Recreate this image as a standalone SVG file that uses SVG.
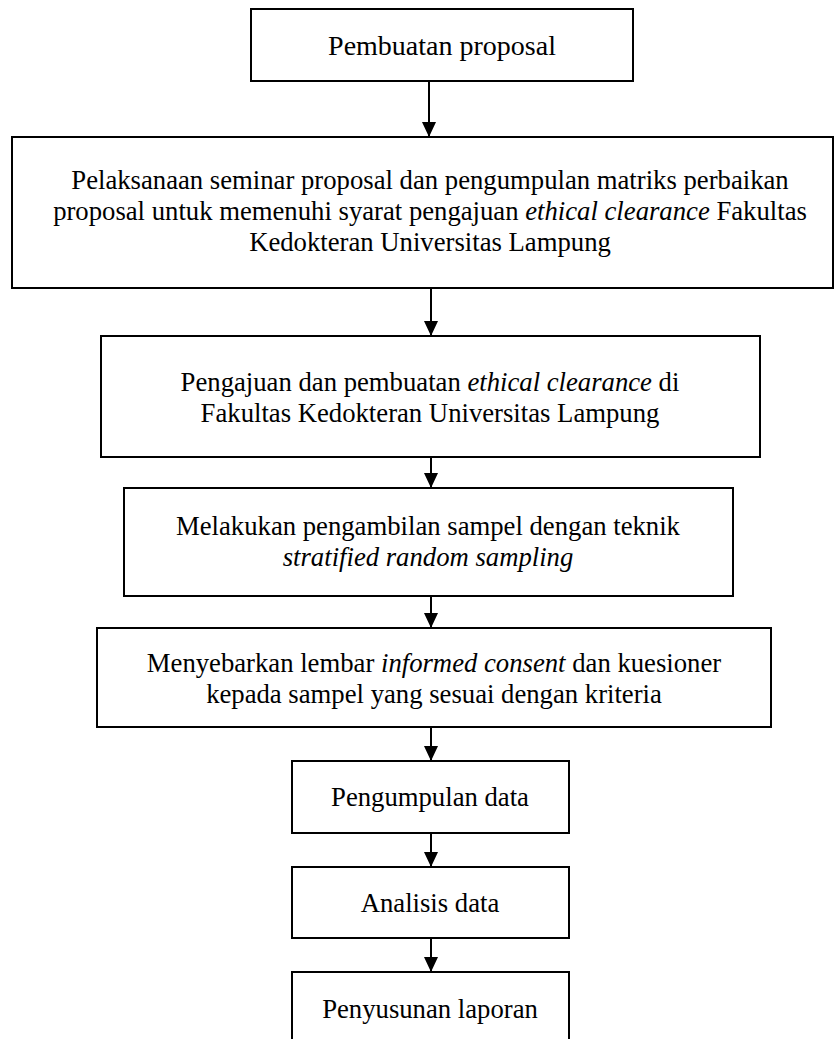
<svg xmlns="http://www.w3.org/2000/svg" width="835" height="1039" viewBox="0 0 835 1039">
<style>
.box{fill:#fff;stroke:#000;stroke-width:2}
.t{font-family:'Liberation Serif','Times New Roman',serif;font-size:26.7px;fill:#000;text-anchor:middle}
.i{font-style:italic}
.c{stroke:#000;stroke-width:2;fill:none;marker-end:url(#ah)}
</style>
<defs>
<marker id="ah" viewBox="0 0 15 14" refX="15" refY="7" markerWidth="15" markerHeight="14" markerUnits="userSpaceOnUse" orient="auto">
<path d="M0,0 L15,7 L0,14 Z" fill="#000"/>
</marker>
</defs>
<rect width="835" height="1039" fill="#fff"/>
<g id="connectors">
<line class="c" x1="429" y1="81" x2="429" y2="137"/>
<line class="c" x1="431" y1="288" x2="431" y2="336"/>
<line class="c" x1="431" y1="457" x2="431" y2="488"/>
<line class="c" x1="431" y1="596" x2="431" y2="628"/>
<line class="c" x1="431" y1="727" x2="431" y2="761"/>
<line class="c" x1="431" y1="833" x2="431" y2="867"/>
<line class="c" x1="431" y1="938" x2="431" y2="972"/>
</g>
<g id="n1">
<rect class="box" x="251" y="9" width="382" height="72"/>
<text class="t" x="442" y="55" style="font-size:28px">Pembuatan proposal</text>
</g>
<g id="n2">
<rect class="box" x="12" y="137" width="821" height="151"/>
<text class="t" x="430" y="189">Pelaksanaan seminar proposal dan pengumpulan matriks perbaikan</text>
<text class="t" x="430" y="220">proposal untuk memenuhi syarat pengajuan <tspan class="i">ethical clearance</tspan> Fakultas</text>
<text class="t" x="430" y="251">Kedokteran Universitas Lampung</text>
</g>
<g id="n3">
<rect class="box" x="101" y="336" width="659" height="121"/>
<text class="t" x="430" y="391">Pengajuan dan pembuatan <tspan class="i">ethical clearance</tspan> di</text>
<text class="t" x="430" y="422">Fakultas Kedokteran Universitas Lampung</text>
</g>
<g id="n4">
<rect class="box" x="124" y="488" width="609" height="108"/>
<text class="t" x="428" y="535">Melakukan pengambilan sampel dengan teknik</text>
<text class="t i" x="428" y="566">stratified random sampling</text>
</g>
<g id="n5">
<rect class="box" x="97" y="628" width="674" height="99"/>
<text class="t" x="434" y="672">Menyebarkan lembar <tspan class="i">informed consent</tspan> dan kuesioner</text>
<text class="t" x="434" y="703">kepada sampel yang sesuai dengan kriteria</text>
</g>
<g id="n6">
<rect class="box" x="292" y="761" width="277" height="72"/>
<text class="t" x="430" y="806">Pengumpulan data</text>
</g>
<g id="n7">
<rect class="box" x="292" y="867" width="277" height="71"/>
<text class="t" x="430" y="912">Analisis data</text>
</g>
<g id="n8">
<rect class="box" x="292" y="972" width="277" height="80"/>
<text class="t" x="430" y="1018">Penyusunan laporan</text>
</g>
</svg>
